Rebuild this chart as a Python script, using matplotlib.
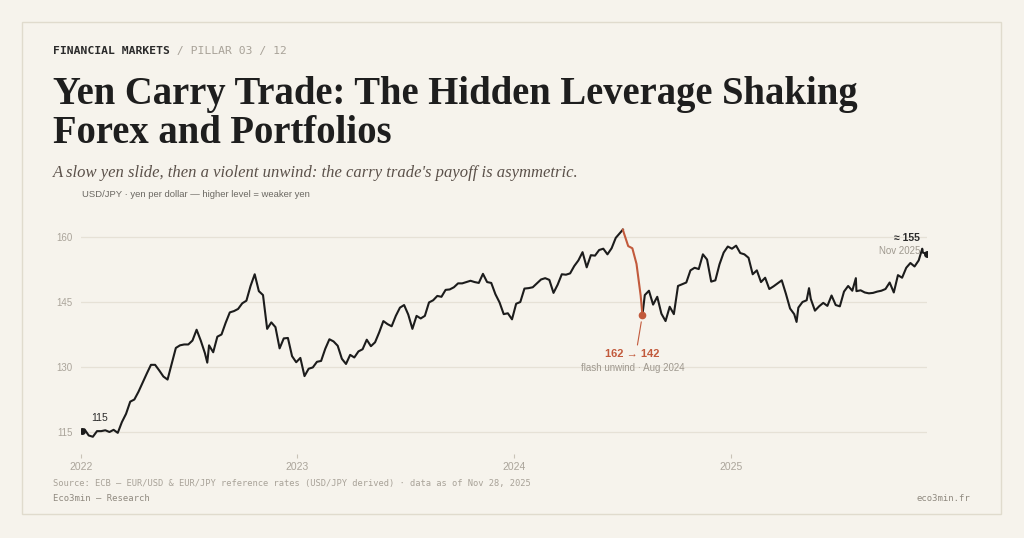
import matplotlib
matplotlib.use("Agg")
import matplotlib.pyplot as plt
import matplotlib.dates as mdates
from matplotlib.patches import Rectangle
import pandas as pd

# USD/JPY, weekly Friday levels (one row per month)
usdjpy_2022 = [
    115.6, 114.2, 113.9, 115.2,
    115.2, 115.4, 115.0, 115.5,
    114.8, 117.3, 119.2, 122.0,
    122.5, 124.3, 126.4, 128.5, 130.5,
    130.5, 129.2, 127.8, 127.1,
    130.8, 134.4, 135.0, 135.2,
    135.2, 136.1, 138.6, 136.1, 133.2,
    135.0, 133.4, 137.0, 137.5,
    140.2, 142.6, 142.9, 143.4, 144.7,
    145.3, 148.7, 151.4, 147.5,
    146.6, 138.8, 140.3, 139.2,
    134.3, 136.6, 136.7, 132.5, 131.1,
]
usdjpy_2023 = [
    132.1, 127.9, 129.6, 129.9,
    131.2, 131.4, 134.2, 136.4,
    135.9, 134.9, 131.9, 130.7, 132.8,
    132.2, 133.6, 134.1, 136.3,
    134.8, 135.7, 138.0, 140.6,
    139.9, 139.4, 141.8, 143.7, 144.3,
    142.1, 138.8, 141.8, 141.2,
    141.8, 144.9, 145.4, 146.4,
    146.2, 147.8, 147.9, 148.4, 149.3,
    149.3, 149.6, 149.9, 149.6,
    149.4, 151.5, 149.6, 149.4,
    146.8, 144.9, 142.2, 142.4, 141.0,
]
usdjpy_2024 = [
    144.6, 145.0, 148.1, 148.2,
    148.4, 149.3, 150.2, 150.5,
    150.1, 147.1, 149.0, 151.4, 151.3,
    151.6, 153.3, 154.6, 156.5,
    153.0, 155.8, 155.7, 157.0, 157.3,
    156.0, 157.4, 159.8, 160.9,
    160.8, 157.9, 157.4, 153.8,
    146.5, 146.6, 147.6, 144.4, 146.2,
    142.3, 140.6, 143.9, 142.2,
    148.7, 149.1, 149.5, 152.3,
    152.9, 152.6, 156.0, 154.8, 149.7,
    150.0, 153.7, 156.4, 157.8,
]
usdjpy_2025 = [
    157.3, 158.0, 156.3, 156.0, 155.2,
    151.4, 152.3, 149.6, 150.6,
    148.0, 148.6, 149.3, 150.0,
    146.9, 143.5, 142.2, 143.7,
    145.0, 145.4, 145.7, 143.0, 144.0,
    144.8, 144.1, 146.5, 144.3,
    144.0, 147.4, 148.7, 147.6,
    147.5, 147.7, 147.2, 147.0, 147.1,
    147.4, 147.6, 148.0, 149.5,
    147.2, 151.2, 150.6, 152.9, 154.0,
    153.2, 154.6, 156.4, 156.1,
]
years = [2022, 2023, 2024, 2025]
last_date = "2025-11-28"

# in-between prints: first fix, July 2024 peak, Aug 2024 low, 2025 swings
extra_dates = ["2022-01-03", "2022-08-02", "2024-07-03", "2024-08-05",
               "2025-04-22", "2025-05-13", "2025-07-31", "2025-11-20"]
extra_values = [115.3, 131.0, 161.7, 142.0, 140.4, 148.2, 150.5, 157.3]

unwind_start, unwind_end = "2024-07-03", "2024-08-05"
unwind_label = "162 \u2192 142"
unwind_note = "flash unwind \u00b7 Aug 2024"
start_label = "115"
end_label = "\u2248 155"
end_note = "Nov 2025"

BG = "#f6f3ec"
INK = "#1c1c1c"
RED = "#c25a3c"
GREY = "#9f998f"
W, H = 1024, 538

plt.rcParams["font.family"] = ["Liberation Sans", "DejaVu Sans"]


def build_series():
    parts = []
    for yr, vals in zip(years, [usdjpy_2022, usdjpy_2023, usdjpy_2024, usdjpy_2025]):
        end = last_date if yr == 2025 else f"{yr}-12-31"
        idx = pd.date_range(f"{yr}-01-01", end, freq="W-FRI")
        parts.append(pd.Series(vals, index=idx))
    parts.append(pd.Series(extra_values, index=pd.to_datetime(extra_dates)))
    return pd.concat(parts).sort_index()


def fy(y):
    return 1 - y / H


def main():
    s = build_series()

    fig = plt.figure(figsize=(W / 100, H / 100), dpi=100, facecolor=BG)
    fig.patches.append(Rectangle((22 / W, fy(514)), 979 / W, 492 / H, transform=fig.transFigure,
                                 fill=False, edgecolor="#e0dbcd", lw=1.0))

    # header
    renderer = fig.canvas.get_renderer()
    t1 = fig.text(53 / W, fy(54), "FINANCIAL MARKETS", family="DejaVu Sans Mono", weight="bold",
                  fontsize=8.2, color="#2b2b2b", va="baseline")
    w1 = t1.get_window_extent(renderer).width
    fig.text((53 + w1) / W, fy(54), " / PILLAR 03 / 12", family="DejaVu Sans Mono",
             fontsize=8.2, color="#a8a298", va="baseline")

    fig.text(53 / W, fy(104), "Yen Carry Trade: The Hidden Leverage Shaking", family="Liberation Serif",
             weight="bold", fontsize=27.8, color="#1e1e1e", va="baseline")
    fig.text(53 / W, fy(143), "Forex and Portfolios", family="Liberation Serif",
             weight="bold", fontsize=27.8, color="#1e1e1e", va="baseline")
    fig.text(53 / W, fy(177), "A slow yen slide, then a violent unwind: the carry trade's payoff is asymmetric.",
             family="Liberation Serif", style="italic", fontsize=12.0, color="#5b514a", va="baseline")
    fig.text(82 / W, fy(197), "USD/JPY \u00b7 yen per dollar \u2014 higher level = weaker yen",
             fontsize=6.8, color="#6b6862", va="baseline")

    # footer
    fig.text(53 / W, fy(486), "Source: ECB \u2014 EUR/USD & EUR/JPY reference rates (USD/JPY derived) \u00b7 data as of Nov 28, 2025",
             family="DejaVu Sans Mono", fontsize=6.35, color="#a8a298", va="baseline")
    fig.text(53 / W, fy(501), "Eco3min \u2014 Research", family="DejaVu Sans Mono",
             fontsize=6.4, color="#8f897f", va="baseline")
    fig.text(970 / W, fy(501), "eco3min.fr", family="DejaVu Sans Mono",
             fontsize=6.4, color="#8f897f", va="baseline", ha="right")

    ax = fig.add_axes([81 / W, fy(458), 846 / W, 234 / H])
    ax.set_facecolor(BG)

    pre = s.loc[:unwind_start]
    drop = s.loc[unwind_start:unwind_end]
    post = s.loc[unwind_end:]
    for part, c in ((pre, INK), (post, INK), (drop, RED)):
        ax.plot(part.index, part.values, color=c, lw=1.5, solid_joinstyle="round", zorder=3)

    # end points
    ax.plot(s.index[0], s.iloc[0], "o", ms=4, color=INK, zorder=4)
    ax.plot(s.index[-1], s.iloc[-1], "o", ms=4, color=INK, zorder=4)
    low_x = pd.Timestamp(unwind_end)
    low_y = s.loc[low_x]
    ax.plot(low_x, low_y, "o", ms=4.5, color=RED, zorder=4)

    ax.annotate(start_label, (s.index[0], s.iloc[0]), xytext=(9, 13), textcoords="offset pixels",
                fontsize=7.5, color="#2b2b2b", ha="left", va="center")
    ax.annotate(end_label, (s.index[-1], s.iloc[-1]), xytext=(-7, 16), textcoords="offset pixels",
                fontsize=7.5, weight="bold", color="#2b2b2b", ha="right", va="center")
    ax.annotate(end_note, (s.index[-1], s.iloc[-1]), xytext=(-7, 3), textcoords="offset pixels",
                fontsize=7, color=GREY, ha="right", va="center")

    ax.annotate("", xy=(low_x, low_y), xytext=(-5, -30), textcoords="offset pixels",
                arrowprops=dict(arrowstyle="-", color=RED, lw=0.8, shrinkA=0, shrinkB=5))
    ax.annotate(unwind_label, (low_x, low_y), xytext=(-10, -39), textcoords="offset pixels",
                fontsize=8, weight="bold", color=RED, ha="center", va="center")
    ax.annotate(unwind_note, (low_x, low_y), xytext=(-10, -53), textcoords="offset pixels",
                fontsize=7, color=GREY, ha="center", va="center")

    ax.set_xlim(pd.Timestamp("2022-01-01"), pd.Timestamp(last_date))
    ax.set_ylim(109, 163)
    ax.set_yticks([115, 130, 145, 160])
    ax.xaxis.set_major_locator(mdates.YearLocator())
    ax.xaxis.set_major_formatter(mdates.DateFormatter("%Y"))
    ax.grid(axis="y", color="#e6e1d6", lw=0.9, zorder=0)
    ax.tick_params(axis="y", length=0, pad=6, labelsize=7, labelcolor="#aaa49a")
    ax.tick_params(axis="x", direction="in", length=3, width=0.8, color="#c9c3b7",
                   pad=3, labelsize=7.5, labelcolor="#aaa49a")
    for sp in ax.spines.values():
        sp.set_visible(False)

    fig.savefig("out.png", dpi=100, facecolor=BG)


if __name__ == "__main__":
    main()
